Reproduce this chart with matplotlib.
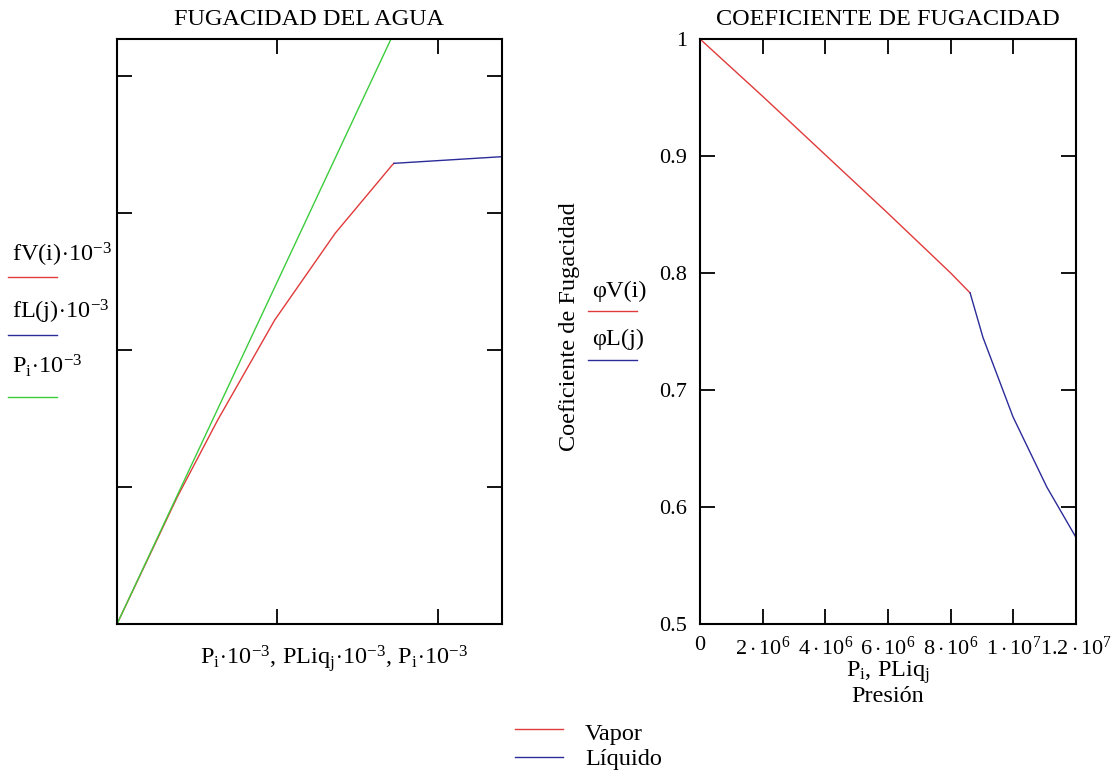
import numpy as np
import matplotlib.pyplot as plt

plt.rcParams['font.family'] = ['Liberation Serif', 'DejaVu Serif']
plt.rcParams['mathtext.fontset'] = 'custom'
plt.rcParams['mathtext.rm'] = 'Liberation Serif'
plt.rcParams['mathtext.it'] = 'Liberation Serif:italic'
plt.rcParams['mathtext.default'] = 'rm'

# fugacity curves, kPa (P*1e-3, f*1e-3)
p_vap_kpa = [0, 1883, 3139, 4916, 6799, 8579, 8632]
fv_kpa = [0, 1858, 2978, 4438, 5703, 6701, 6725]
p_liq_kpa = [8632, 12000]
fl_kpa = [6725, 6822]
p_ideal_kpa = [0, 12000]

# fugacity coefficient, Pa
p_vap_pa = [0, 2e6, 4e6, 6e6, 8e6, 8.62e6]
phi_v = [1.0, 0.951, 0.901, 0.851, 0.800, 0.783]
p_liq_pa = [8.62e6, 9.03e6, 9.99e6, 1.107e7, 1.2e7]
phi_l = [0.783, 0.745, 0.677, 0.617, 0.574]

x_ticks_r = [0, 2e6, 4e6, 6e6, 8e6, 1e7, 1.2e7]
x_labels_r = ['0', r'$2\cdot10^{6}$', r'$4\cdot10^{6}$', r'$6\cdot10^{6}$',
              r'$8\cdot10^{6}$', r'$1\cdot10^{7}$', r'$1.2\cdot10^{7}$']
y_ticks_r = [0.5, 0.6, 0.7, 0.8, 0.9, 1.0]
y_labels_r = ['0.5', '0.6', '0.7', '0.8', '0.9', '1']

red = '#e03a3a'
blue = '#2b2b9a'
green = '#3ccc3c'
fs = 17.5

fig = plt.figure(figsize=(11.14, 7.76), dpi=100)
ax1 = fig.add_axes([117/1114, 1-624/776, 385/1114, 585/776])
ax2 = fig.add_axes([700/1114, 1-624/776, 376/1114, 585/776])

# left plot
ax1.plot(p_vap_kpa, fv_kpa, color=red, lw=1)
ax1.plot(p_liq_kpa, fl_kpa, color=blue, lw=1)
ax1.plot(p_ideal_kpa, p_ideal_kpa, color=green, lw=1)
ax1.set_xlim(0, 12000)
ax1.set_ylim(0, 8540)
ax1.set_xticks([5000, 10000])
ax1.set_yticks([2000, 4000, 6000, 8000])
ax1.tick_params(direction='in', length=11, width=1.3, top=True, right=True,
                labelbottom=False, labelleft=False)
ax1.set_title('FUGACIDAD DEL AGUA', fontsize=fs, pad=10)
fig.text(334, 776-658, r'$\mathrm{P_i\!\cdot\!10^{-3}}$, $\mathrm{PLiq_j\!\cdot\!10^{-3}}$, '
         r'$\mathrm{P_i\!\cdot\!10^{-3}}$', fontsize=fs, ha='center', va='center',
         transform=None)

# right plot
ax2.plot(p_vap_pa, phi_v, color=red, lw=1)
ax2.plot(p_liq_pa, phi_l, color=blue, lw=1)
ax2.set_xlim(0, 1.2e7)
ax2.set_ylim(0.5, 1.0)
ax2.set_xticks(x_ticks_r, x_labels_r)
ax2.set_yticks(y_ticks_r, y_labels_r)
ax2.tick_params(direction='in', length=11, width=1.3, top=True, right=True,
                labelsize=16, pad=9)
ax2.set_title('COEFICIENTE DE FUGACIDAD', fontsize=fs, pad=10)
ax2.set_xlabel(r'$\mathrm{P_i}$, $\mathrm{PLiq_j}$' + '\nPresión', fontsize=fs,
               labelpad=0, linespacing=0.95)
ax2.set_ylabel('Coeficiente de Fugacidad', fontsize=fs)
ax2.yaxis.set_label_coords(-0.318, 0.508)

for ax in (ax1, ax2):
    for s in ax.spines.values():
        s.set_linewidth(1.5)

# left legend (in the margin)
fig.text(12, 776-262, r'$\mathrm{fV(i)\!\cdot\!10^{-3}}$', fontsize=fs, va='baseline',
         transform=None)
fig.text(12, 776-318, r'$\mathrm{fL(j)\!\cdot\!10^{-3}}$', fontsize=fs, va='baseline',
         transform=None)
fig.text(12, 776-373, r'$\mathrm{P_i\!\cdot\!10^{-3}}$', fontsize=fs, va='baseline',
         transform=None)
for yy, c in ((277, red), (335, blue), (397, green)):
    fig.add_artist(plt.Line2D([8/1114, 57/1114], [1-yy/776, 1-yy/776], color=c, lw=1))

# right legend
fig.text(592, 776-297, 'φV(i)', fontsize=fs, va='baseline', transform=None)
fig.text(592, 776-345, 'φL(j)', fontsize=fs, va='baseline', transform=None)
for yy, c in ((311, red), (360, blue)):
    fig.add_artist(plt.Line2D([588/1114, 637/1114], [1-yy/776, 1-yy/776], color=c, lw=1))

# bottom legend
fig.text(585, 776-740, 'Vapor', fontsize=fs, va='baseline', transform=None)
fig.text(585, 776-765, 'Líquido', fontsize=fs, va='baseline', transform=None)
for yy, c in ((729, red), (757, blue)):
    fig.add_artist(plt.Line2D([515/1114, 563/1114], [1-yy/776, 1-yy/776], color=c, lw=1))

fig.savefig('out.png', dpi=100)
